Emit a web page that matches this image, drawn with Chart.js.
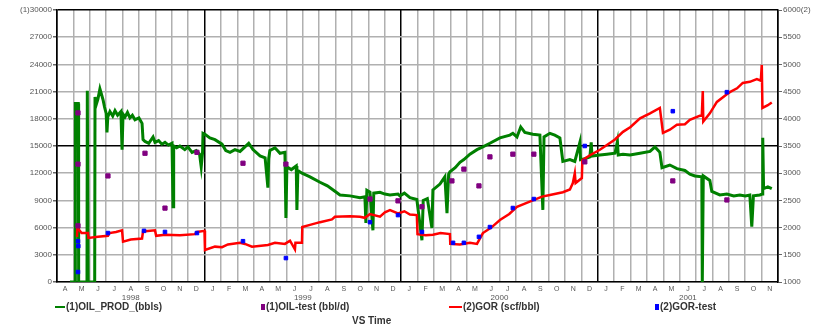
<!DOCTYPE html>
<html lang="en">

<head>
    <meta charset="UTF-8">
    <title>OIL_PROD / GOR VS Time</title>
    <script src="https://cdn.jsdelivr.net/npm/chart.js"></script>
    <style>
        body { margin: 0; background: #fff; }
        .tela { position: relative; width: 815px; height: 325px; font-family: "Liberation Sans", Arial, sans-serif; }
        .leg { position: absolute; top: 302px; font-size: 10px; font-weight: bold; color: #333; white-space: nowrap; line-height: 10px; }
        .traco { display: inline-block; width: 10px; height: 2px; vertical-align: middle; margin-right: 1px; }
        .quad { display: inline-block; width: 4px; height: 6px; vertical-align: middle; margin-right: 1px; }
        .vs { position: absolute; left: 352px; top: 315px; font-size: 10px; font-weight: bold; color: #333; }
    </style>
</head>

<body>
    <div class="tela">
        <canvas id="grafico" width="815" height="325"></canvas>
        <div class="leg" style="left:55px"><span class="traco" style="background:#008000"></span>(1)OIL_PROD_(bbls)</div>
        <div class="leg" style="left:261px"><span class="quad" style="background:#800080"></span>(1)OIL-test (bbl/d)</div>
        <div class="leg" style="left:449px"><span class="traco" style="background:#ff0000;width:13px"></span>(2)GOR (scf/bbl)</div>
        <div class="leg" style="left:655px"><span class="quad" style="background:#0000ff"></span>(2)GOR-test</div>
        <div class="vs">VS Time</div>
    </div>
</body>

</html>
<script>
    // x = months since 1 Apr 1998
    const monthLetters = ['A', 'M', 'J', 'J', 'A', 'S', 'O', 'N', 'D',
        'J', 'F', 'M', 'A', 'M', 'J', 'J', 'A', 'S', 'O', 'N', 'D',
        'J', 'F', 'M', 'A', 'M', 'J', 'J', 'A', 'S', 'O', 'N', 'D',
        'J', 'F', 'M', 'A', 'M', 'J', 'J', 'A', 'S', 'O', 'N'];
    const yearLabels = ['1998', '1999', '2000', '2001'];
    const yearCenters = [4.5, 15, 27, 38.5];
    const yearBreaks = [0, 9, 21, 33, 44];

    // (1)OIL_PROD_(bbls) : [month, value]
    const oilProd = [[0.79, 0], [1.10, 0], [1.12, 19700], [1.30, 19700], [1.32, 0], [1.83, 0], [1.85, 21100], [1.90, 0],
        [2.30, 0], [2.32, 20400], [2.40, 19600], [2.50, 20200], [2.62, 21300], [2.70, 20800], [2.81, 20100], [2.90, 19300],
        [3.00, 18600], [3.05, 16500], [3.10, 18200], [3.23, 18800], [3.40, 18300], [3.54, 18900], [3.70, 18400], [3.90, 18800],
        [3.97, 14600], [4.03, 18500], [4.15, 18200], [4.30, 18700], [4.45, 18100], [4.60, 18400], [4.76, 17900], [5.00, 18100],
        [5.19, 17500], [5.25, 15700], [5.37, 15500], [5.60, 15300], [5.86, 16000], [5.98, 15400], [6.20, 15600], [6.40, 15200],
        [6.59, 15400], [6.80, 15100], [7.02, 15300], [7.08, 8300], [7.12, 15000], [7.30, 14800], [7.50, 15000], [7.80, 14600],
        [7.99, 14900], [8.24, 14300], [8.50, 14500], [8.70, 14100], [8.80, 12700], [8.88, 14200], [8.91, 16400], [9.03, 16300],
        [9.33, 15900], [9.64, 15700], [10.07, 15200], [10.30, 14500], [10.56, 14300], [10.86, 14600], [11.17, 14400], [11.47, 14900],
        [11.70, 15300], [11.96, 14600], [12.39, 13900], [12.70, 13700], [12.87, 10400], [12.92, 13600], [12.99, 14500], [13.30, 14800],
        [13.61, 14200], [13.91, 14300], [13.97, 7050], [14.03, 12700], [14.30, 12400], [14.60, 12800], [14.64, 7950], [14.70, 12300],
        [14.95, 12000], [15.44, 11600], [16.05, 11000], [16.50, 10600], [16.96, 10000], [17.27, 9600], [17.88, 9500], [18.49, 9300],
        [18.79, 9400], [18.85, 6500], [18.91, 10100], [19.10, 9900], [19.28, 5700], [19.33, 9800], [19.71, 9900], [20.01, 9700],
        [20.32, 9600], [20.81, 9700], [20.93, 9500], [21.20, 9800], [21.54, 9300], [21.96, 9100], [22.27, 4600], [22.35, 9000],
        [22.60, 9200], [22.88, 5950], [22.94, 10150], [23.37, 10800], [23.67, 11600], [23.80, 7600], [23.90, 11900], [23.98, 12150],
        [24.30, 12600], [24.59, 13200], [24.83, 13500], [25.20, 14100], [25.63, 14600], [25.99, 14900], [26.42, 15300], [27.03, 15900],
        [27.64, 16200], [27.82, 16400], [28.07, 16000], [28.30, 17100], [28.55, 16500], [29.04, 16300], [29.47, 16200], [29.65, 7950],
        [29.72, 16000], [30.08, 16400], [30.38, 16200], [30.69, 15900], [30.87, 13300], [31.30, 13500], [31.60, 13300], [31.91, 15400],
        [31.95, 13500], [32.21, 13600], [32.52, 13800], [32.60, 15400], [32.65, 13900], [33.13, 14000], [33.56, 14100], [34.05, 14200],
        [34.20, 15500], [34.25, 14000], [34.54, 14100], [34.97, 14000], [35.58, 14200], [36.19, 14400], [36.49, 14900], [36.79, 14300],
        [36.92, 12600], [37.40, 12900], [37.83, 12500], [38.32, 12300], [38.62, 11900], [38.93, 11700], [39.35, 11600], [39.38, 0],
        [39.44, 11700], [39.84, 11200], [39.96, 10000], [40.45, 9600], [40.88, 9700], [41.30, 9500], [41.67, 9600], [42.00, 9500],
        [42.28, 9600], [42.40, 6100], [42.50, 9500], [42.89, 9600], [43.04, 9700], [43.07, 15900], [43.12, 10300], [43.38, 10500],
        [43.62, 10300]];

    // (2)GOR (scf/bbl) : [month, value]
    const gor = [[1.22, 1830], [1.24, 2000], [1.50, 1900], [1.89, 1900], [1.92, 1810], [2.50, 1830], [3.11, 1850], [3.20, 1900],
        [3.60, 1920], [3.97, 1950], [4.03, 1740], [4.50, 1780], [5.19, 1800], [5.25, 1930], [5.98, 1950], [6.05, 1850],
        [6.59, 1870], [7.50, 1860], [8.42, 1880], [8.54, 1920], [9.00, 1940], [9.03, 1590], [9.64, 1650], [10.07, 1640],
        [10.43, 1690], [11.17, 1720], [11.47, 1700], [11.90, 1650], [12.87, 1680], [13.30, 1720], [13.91, 1700], [14.22, 1760],
        [14.52, 1600], [14.55, 1720], [14.95, 1720], [14.97, 2010], [15.44, 2050], [16.05, 2100], [16.78, 2150], [16.96, 2200],
        [17.88, 2210], [18.49, 2200], [18.79, 2180], [19.10, 2250], [19.71, 2200], [20.01, 2280], [20.32, 2320], [20.81, 2260],
        [21.20, 2300], [21.54, 2240], [21.96, 2230], [22.00, 1880], [22.50, 1860], [22.94, 1870], [23.40, 1900], [23.98, 1880],
        [24.00, 1700], [24.59, 1690], [25.20, 1720], [25.63, 1700], [25.99, 1900], [26.50, 2000], [27.03, 2140], [27.60, 2250],
        [28.07, 2380], [28.55, 2440], [29.04, 2500], [29.60, 2570], [30.08, 2600], [30.87, 2650], [31.30, 2700], [31.48, 2820],
        [31.60, 3000], [31.65, 2820], [32.03, 2910], [32.06, 3240], [32.52, 3330], [33.13, 3430], [33.56, 3520], [34.05, 3620],
        [34.54, 3760], [35.00, 3850], [35.58, 4010], [36.19, 4100], [36.79, 4200], [36.98, 3740], [37.40, 3800], [37.83, 3890],
        [38.32, 3900], [38.62, 3980], [39.35, 4070], [39.41, 4510], [39.44, 3950], [39.84, 4100], [40.27, 4310], [40.88, 4450],
        [41.06, 4490], [41.50, 4560], [41.85, 4660], [42.28, 4680], [42.71, 4730], [42.95, 4700], [43.01, 4990], [43.05, 4200],
        [43.38, 4250], [43.62, 4300]];

    // (1)OIL-test (bbl/d)
    const oilTest = [[1.28, 18650], [1.28, 13000], [1.28, 6200], [3.11, 11700], [5.37, 14200], [6.59, 8150], [8.54, 14300],
        [11.35, 13100], [13.97, 13000], [19.10, 9150], [20.81, 8950], [22.27, 8300], [24.10, 11150], [24.83, 12450],
        [25.75, 10600], [26.42, 13800], [27.82, 14100], [29.10, 14100], [32.21, 13250], [37.58, 11150], [40.88, 9050]];

    // (2)GOR-test
    const gorTest = [[1.28, 1184], [1.28, 1750], [1.30, 1660], [3.11, 1900], [5.31, 1940], [6.59, 1920], [8.54, 1900],
        [11.35, 1750], [13.97, 1440], [19.10, 2100], [20.81, 2230], [22.27, 1920], [24.17, 1720], [24.83, 1720],
        [25.75, 1830], [26.42, 2010], [27.82, 2360], [29.10, 2525], [32.21, 3500], [37.58, 4140], [40.88, 4490]];

    function pontos(lista) {
        return lista.map(p => ({ x: p[0], y: p[1] }));
    }

    const gridMonths = [];
    for (let i = 0; i <= 44; i++) gridMonths.push(i);

    const cinza = '#b0b0b0';
    const fonteTick = { family: '"Liberation Sans", Arial, sans-serif', size: 8 };

    new Chart(document.getElementById('grafico'), {
        data: {
            datasets: [
                {
                    type: 'scatter', label: '(2)GOR-test', data: pontos(gorTest), xAxisID: 'x', yAxisID: 'y2',
                    pointStyle: 'rect', pointRadius: 2.5, backgroundColor: '#0000ff', borderColor: '#0000ff', order: 0
                },
                {
                    type: 'scatter', label: '(1)OIL-test (bbl/d)', data: pontos(oilTest), xAxisID: 'x', yAxisID: 'y',
                    pointStyle: 'rect', pointRadius: 3, backgroundColor: '#800080', borderColor: '#800080', order: 1
                },
                {
                    type: 'line', label: '(2)GOR (scf/bbl)', data: pontos(gor), xAxisID: 'x', yAxisID: 'y2',
                    borderColor: '#ff0000', borderWidth: 2.5, pointRadius: 0, tension: 0, order: 2
                },
                {
                    type: 'line', label: '(1)OIL_PROD_(bbls)', data: pontos(oilProd), xAxisID: 'x', yAxisID: 'y',
                    borderColor: '#008000', borderWidth: 3, pointRadius: 0, tension: 0, order: 3
                }
            ]
        },
        options: {
            responsive: false,
            animation: false,
            layout: { padding: { top: 10, bottom: 20, left: 0, right: 0 } },
            plugins: { legend: { display: false }, tooltip: { enabled: false } },
            scales: {
                x: {
                    type: 'linear', position: 'bottom', min: 0, max: 44,
                    afterBuildTicks: a => { a.ticks = gridMonths.map(v => ({ value: v })); },
                    ticks: { display: false },
                    grid: {
                        drawTicks: false,
                        color: c => yearBreaks.includes(c.tick.value) ? '#000' : cinza,
                        lineWidth: 1.5
                    },
                    border: { color: '#000', width: 1.5 },
                    afterFit: a => { a.height = 0; }
                },
                mes: {
                    type: 'linear', position: 'bottom', min: 0, max: 44,
                    afterBuildTicks: a => { a.ticks = monthLetters.map((m, i) => ({ value: i + 0.5 })); },
                    ticks: {
                        autoSkip: false, maxRotation: 0, padding: 3, color: '#555',
                        font: { family: fonteTick.family, size: 7 },
                        callback: (v, i) => monthLetters[i]
                    },
                    grid: { display: false, drawTicks: false },
                    border: { display: false },
                    afterFit: a => { a.height = 10; }
                },
                ano: {
                    type: 'linear', position: 'bottom', min: 0, max: 44,
                    afterBuildTicks: a => { a.ticks = yearCenters.map(v => ({ value: v })); },
                    ticks: {
                        autoSkip: false, maxRotation: 0, padding: 1, color: '#555', font: fonteTick,
                        callback: (v, i) => yearLabels[i]
                    },
                    grid: { display: false, drawTicks: false },
                    border: { display: false },
                    afterFit: a => { a.height = 13; }
                },
                y: {
                    position: 'left', min: 0, max: 30000,
                    ticks: {
                        stepSize: 3000, padding: 1, color: '#555', font: fonteTick,
                        callback: v => v === 30000 ? '(1)30000' : String(v)
                    },
                    grid: {
                        color: c => (c.tick.value === 15000 || c.tick.value === 30000) ? '#000' : cinza,
                        lineWidth: 1.5, tickLength: 4, tickColor: '#666'
                    },
                    border: { color: '#000', width: 1.5 },
                    afterFit: a => { a.width = 57; }
                },
                y2: {
                    position: 'right', min: 1000, max: 6000,
                    ticks: {
                        stepSize: 500, padding: 1, color: '#555', font: fonteTick,
                        callback: v => v === 6000 ? '6000(2)' : String(v)
                    },
                    grid: { drawOnChartArea: false, tickLength: 4, tickColor: '#666' },
                    border: { color: '#000', width: 1.5 },
                    afterFit: a => { a.width = 37; }
                }
            }
        }
    });
</script>
